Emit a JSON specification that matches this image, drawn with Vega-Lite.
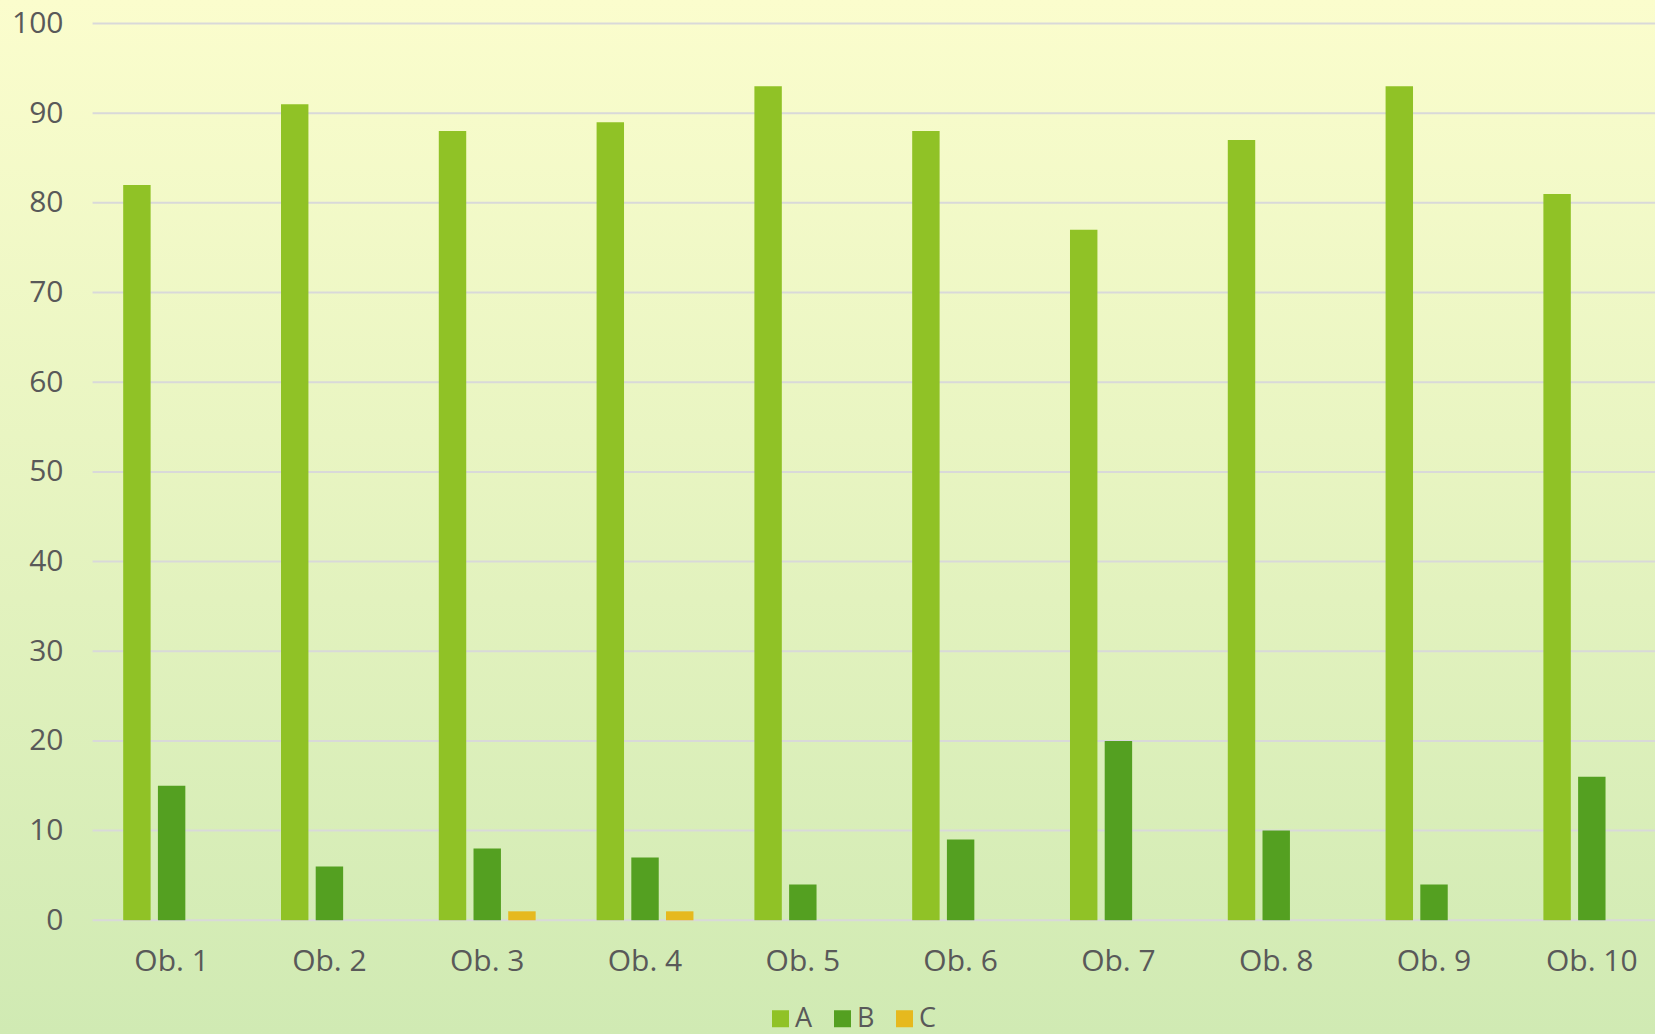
{
  "$schema": "https://vega.github.io/schema/vega-lite/v6.json",
  "width": 1655,
  "height": 1034,
  "autosize": {"type": "none"},
  "padding": 0,
  "background": "#E4F2C2",
  "config": {
    "font": "Open Sans",
    "view": {
      "stroke": null,
      "fill": {
        "gradient": "linear",
        "x1": 0, "y1": 0, "x2": 0, "y2": 1,
        "stops": [
          {"offset": 0, "color": "#FBFDCD"},
          {"offset": 1, "color": "#D0EAB3"}
        ]
      }
    }
  },
  "datasets": {
    "bars": [
      {"ob": "Ob. 1", "s": "A", "value": 82}, {"ob": "Ob. 1", "s": "B", "value": 15}, {"ob": "Ob. 1", "s": "C", "value": 0},
      {"ob": "Ob. 2", "s": "A", "value": 91}, {"ob": "Ob. 2", "s": "B", "value": 6}, {"ob": "Ob. 2", "s": "C", "value": 0},
      {"ob": "Ob. 3", "s": "A", "value": 88}, {"ob": "Ob. 3", "s": "B", "value": 8}, {"ob": "Ob. 3", "s": "C", "value": 1},
      {"ob": "Ob. 4", "s": "A", "value": 89}, {"ob": "Ob. 4", "s": "B", "value": 7}, {"ob": "Ob. 4", "s": "C", "value": 1},
      {"ob": "Ob. 5", "s": "A", "value": 93}, {"ob": "Ob. 5", "s": "B", "value": 4}, {"ob": "Ob. 5", "s": "C", "value": 0},
      {"ob": "Ob. 6", "s": "A", "value": 88}, {"ob": "Ob. 6", "s": "B", "value": 9}, {"ob": "Ob. 6", "s": "C", "value": 0},
      {"ob": "Ob. 7", "s": "A", "value": 77}, {"ob": "Ob. 7", "s": "B", "value": 20}, {"ob": "Ob. 7", "s": "C", "value": 0},
      {"ob": "Ob. 8", "s": "A", "value": 87}, {"ob": "Ob. 8", "s": "B", "value": 10}, {"ob": "Ob. 8", "s": "C", "value": 0},
      {"ob": "Ob. 9", "s": "A", "value": 93}, {"ob": "Ob. 9", "s": "B", "value": 4}, {"ob": "Ob. 9", "s": "C", "value": 0},
      {"ob": "Ob. 10", "s": "A", "value": 81}, {"ob": "Ob. 10", "s": "B", "value": 16}, {"ob": "Ob. 10", "s": "C", "value": 0}
    ],
    "ticks": [
      {"v": 0}, {"v": 10}, {"v": 20}, {"v": 30}, {"v": 40}, {"v": 50},
      {"v": 60}, {"v": 70}, {"v": 80}, {"v": 90}, {"v": 100}
    ]
  },
  "layer": [
    {
      "data": {"name": "ticks"},
      "mark": {"type": "rule", "color": "#D9D9D9", "strokeWidth": 2},
      "encoding": {
        "y": {
          "field": "v", "type": "quantitative",
          "scale": {"domain": [-12.68, 102.62], "nice": false, "zero": false},
          "axis": {
            "orient": "left", "offset": -93, "values": [0, 10, 20, 30, 40, 50, 60, 70, 80, 90, 100],
            "domain": false, "ticks": false, "tickSize": 0, "grid": false,
            "labelPadding": 30, "labelFontSize": 30, "labelColor": "#595959", "title": null
          }
        },
        "x": {
          "datum": "Ob. 1", "type": "nominal", "bandPosition": -0.259,
          "axis": {
            "orient": "bottom", "offset": -113.7, "domain": false, "ticks": false, "tickSize": 0,
            "grid": false, "labelPadding": 26, "labelFontSize": 30, "labelColor": "#595959",
            "labelAngle": 0, "title": null, "bandPosition": 0.5
          }
        },
        "x2": {"datum": "Ob. 10", "bandPosition": 1.2}
      }
    },
    {
      "data": {"name": "bars"},
      "mark": {"type": "bar"},
      "encoding": {
        "x": {
          "field": "ob", "type": "nominal",
          "scale": {
            "domain": ["Ob. 1", "Ob. 2", "Ob. 3", "Ob. 4", "Ob. 5", "Ob. 6", "Ob. 7", "Ob. 8", "Ob. 9", "Ob. 10"],
            "paddingInner": 0.34, "paddingOuter": 0.414, "align": 0.915
          },
          "axis": {
            "orient": "bottom", "offset": -113.7, "domain": false, "ticks": false, "tickSize": 0,
            "grid": false, "labelPadding": 26, "labelFontSize": 30, "labelColor": "#595959",
            "labelAngle": 0, "title": null, "bandPosition": 0.5
          }
        },
        "xOffset": {
          "field": "s", "type": "nominal",
          "scale": {"domain": ["A", "B", "C"], "paddingInner": 0.21, "paddingOuter": 0.105}
        },
        "y": {
          "field": "value", "type": "quantitative",
          "scale": {"domain": [-12.68, 102.62], "nice": false, "zero": false},
          "axis": {
            "orient": "left", "offset": -93, "values": [0, 10, 20, 30, 40, 50, 60, 70, 80, 90, 100],
            "domain": false, "ticks": false, "tickSize": 0, "grid": false,
            "labelPadding": 30, "labelFontSize": 30, "labelColor": "#595959", "title": null
          }
        },
        "y2": {"datum": 0},
        "color": {
          "field": "s", "type": "nominal",
          "scale": {"domain": ["A", "B", "C"], "range": ["#90C226", "#54A021", "#E6B91E"]},
          "legend": {
            "orient": "none", "legendX": 767, "legendY": 1005, "direction": "horizontal",
            "title": null, "symbolType": "square", "symbolSize": 289, "symbolStrokeWidth": 0,
            "symbolOpacity": 1, "labelFontSize": 27, "labelColor": "#595959", "labelOffset": 1,
            "columnPadding": 16, "padding": 0
          }
        }
      }
    }
  ]
}
